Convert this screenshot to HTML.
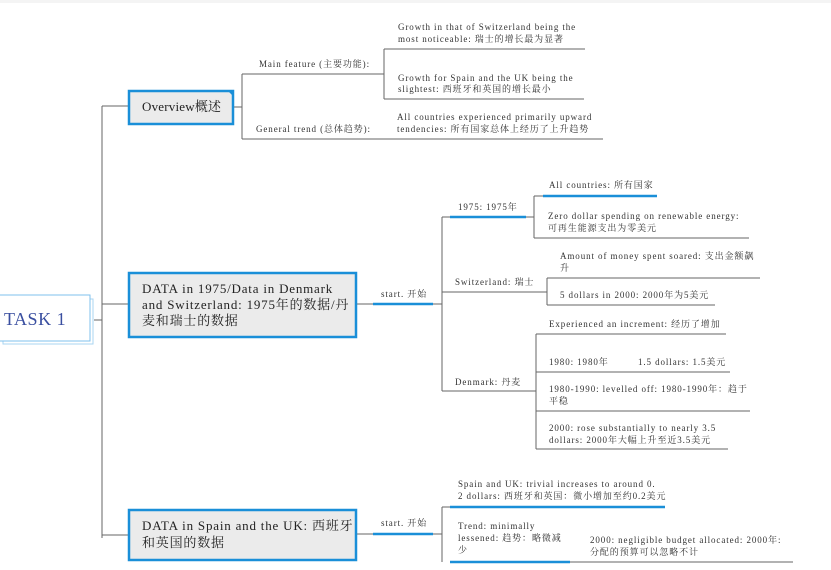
<!DOCTYPE html>
<html><head><meta charset="utf-8"><style>
html,body{margin:0;padding:0;background:#fff;}
svg text{font-family:"Liberation Serif","Noto Serif CJK SC","Noto Sans CJK SC",serif;fill:#333;}
.s{font-size:9px;letter-spacing:0.9px;}
.m{font-size:13px;fill:#222;letter-spacing:0.8px;}
</style></head><body>
<svg width="831" height="565" viewBox="0 0 831 565" xmlns="http://www.w3.org/2000/svg">
<rect x="0" y="0" width="831" height="3" fill="#f4f4f4"/>
<g stroke="#666" stroke-width="1" fill="none">
<path d="M94 320H102M102 106V538M102 106H128M102 304H128M102 535H128"/>
<path d="M234 107H242M242 74V139M242 74H384M242 139H603M384 49V99M384 49H585M384 99H584"/>
<path d="M356 304H373M433 304H442M442 217V391M442 217H450M526 217H534M534 196V238M534 196H543M534 238H749"/>
<path d="M442 292H547M547 278V305M547 278H760M547 305H715"/>
<path d="M442 391H536M536 334V449M536 334H726M536 372H730M536 411H750M536 449H728"/>
<path d="M356 534H373M433 534H442M442 507V562M442 507H450M570 562H793"/>
</g>
<g stroke="#1a8fd8" stroke-width="2.5">
<path d="M373 304H433M450 217H526M543 196H657M373 534H433M450 507H665M450 562H570"/>
</g>
<rect x="3" y="299" width="90" height="45" fill="#fff" stroke="#a9d4f2"/>
<rect x="1" y="297" width="89" height="44" fill="#fff" stroke="#a9d4f2"/>
<rect x="-1" y="295" width="91" height="46" fill="#fff" stroke="#7fc1ee"/>
<text x="4" y="325" style="font-size:18px;fill:#3a4fa0;letter-spacing:0.5px">TASK 1</text>
<rect x="129" y="91" width="104" height="33" fill="#ebebeb" stroke="#1a8fd8" stroke-width="2.5"/>
<path d="M227 90L234 97V90Z" fill="#1a8fd8"/>
<text x="142" y="111" class="m" style="letter-spacing:0.2px">Overview概述</text>
<rect x="129" y="273" width="227" height="64" fill="#ebebeb" stroke="#1a8fd8" stroke-width="2.5"/>
<text x="142" y="293" class="m">DATA in 1975/Data in Denmark</text>
<text x="142" y="309" class="m">and Switzerland: 1975年的数据/丹</text>
<text x="142" y="325" class="m">麦和瑞士的数据</text>
<rect x="129" y="510" width="227" height="50" fill="#ebebeb" stroke="#1a8fd8" stroke-width="2.5"/>
<text x="142" y="530" class="m">DATA in Spain and the UK: 西班牙</text>
<text x="142" y="547" class="m">和英国的数据</text>
<g class="s">
<text x="259" y="67">Main feature (主要功能):</text>
<text x="256" y="132">General trend (总体趋势):</text>
<text x="398" y="30">Growth in that of Switzerland being the</text>
<text x="398" y="42">most noticeable: 瑞士的增长最为显著</text>
<text x="398" y="81">Growth for Spain and the UK being the</text>
<text x="398" y="92">slightest: 西班牙和英国的增长最小</text>
<text x="397" y="120">All countries experienced primarily upward</text>
<text x="397" y="132">tendencies: 所有国家总体上经历了上升趋势</text>
<text x="381" y="297">start. 开始</text>
<text x="458" y="210">1975: 1975年</text>
<text x="549" y="188">All countries: 所有国家</text>
<text x="548" y="219">Zero dollar spending on renewable energy:</text>
<text x="548" y="231">可再生能源支出为零美元</text>
<text x="455" y="285">Switzerland: 瑞士</text>
<text x="560" y="259">Amount of money spent soared: 支出金额飙</text>
<text x="560" y="271">升</text>
<text x="560" y="298">5 dollars in 2000: 2000年为5美元</text>
<text x="455" y="385">Denmark: 丹麦</text>
<text x="549" y="327">Experienced an increment: 经历了增加</text>
<text x="549" y="365">1980: 1980年</text>
<text x="638" y="365">1.5 dollars: 1.5美元</text>
<text x="549" y="392">1980-1990: levelled off: 1980-1990年：趋于</text>
<text x="549" y="404">平稳</text>
<text x="549" y="431">2000: rose substantially to nearly 3.5</text>
<text x="549" y="443">dollars: 2000年大幅上升至近3.5美元</text>
<text x="381" y="526">start. 开始</text>
<text x="458" y="487">Spain and UK: trivial increases to around 0.</text>
<text x="458" y="499">2 dollars: 西班牙和英国：微小增加至约0.2美元</text>
<text x="458" y="529">Trend: minimally</text>
<text x="458" y="541">lessened: 趋势：略微减</text>
<text x="458" y="553">少</text>
<text x="590" y="543">2000: negligible budget allocated: 2000年:</text>
<text x="590" y="555">分配的预算可以忽略不计</text>
</g>
</svg>
</body></html>
